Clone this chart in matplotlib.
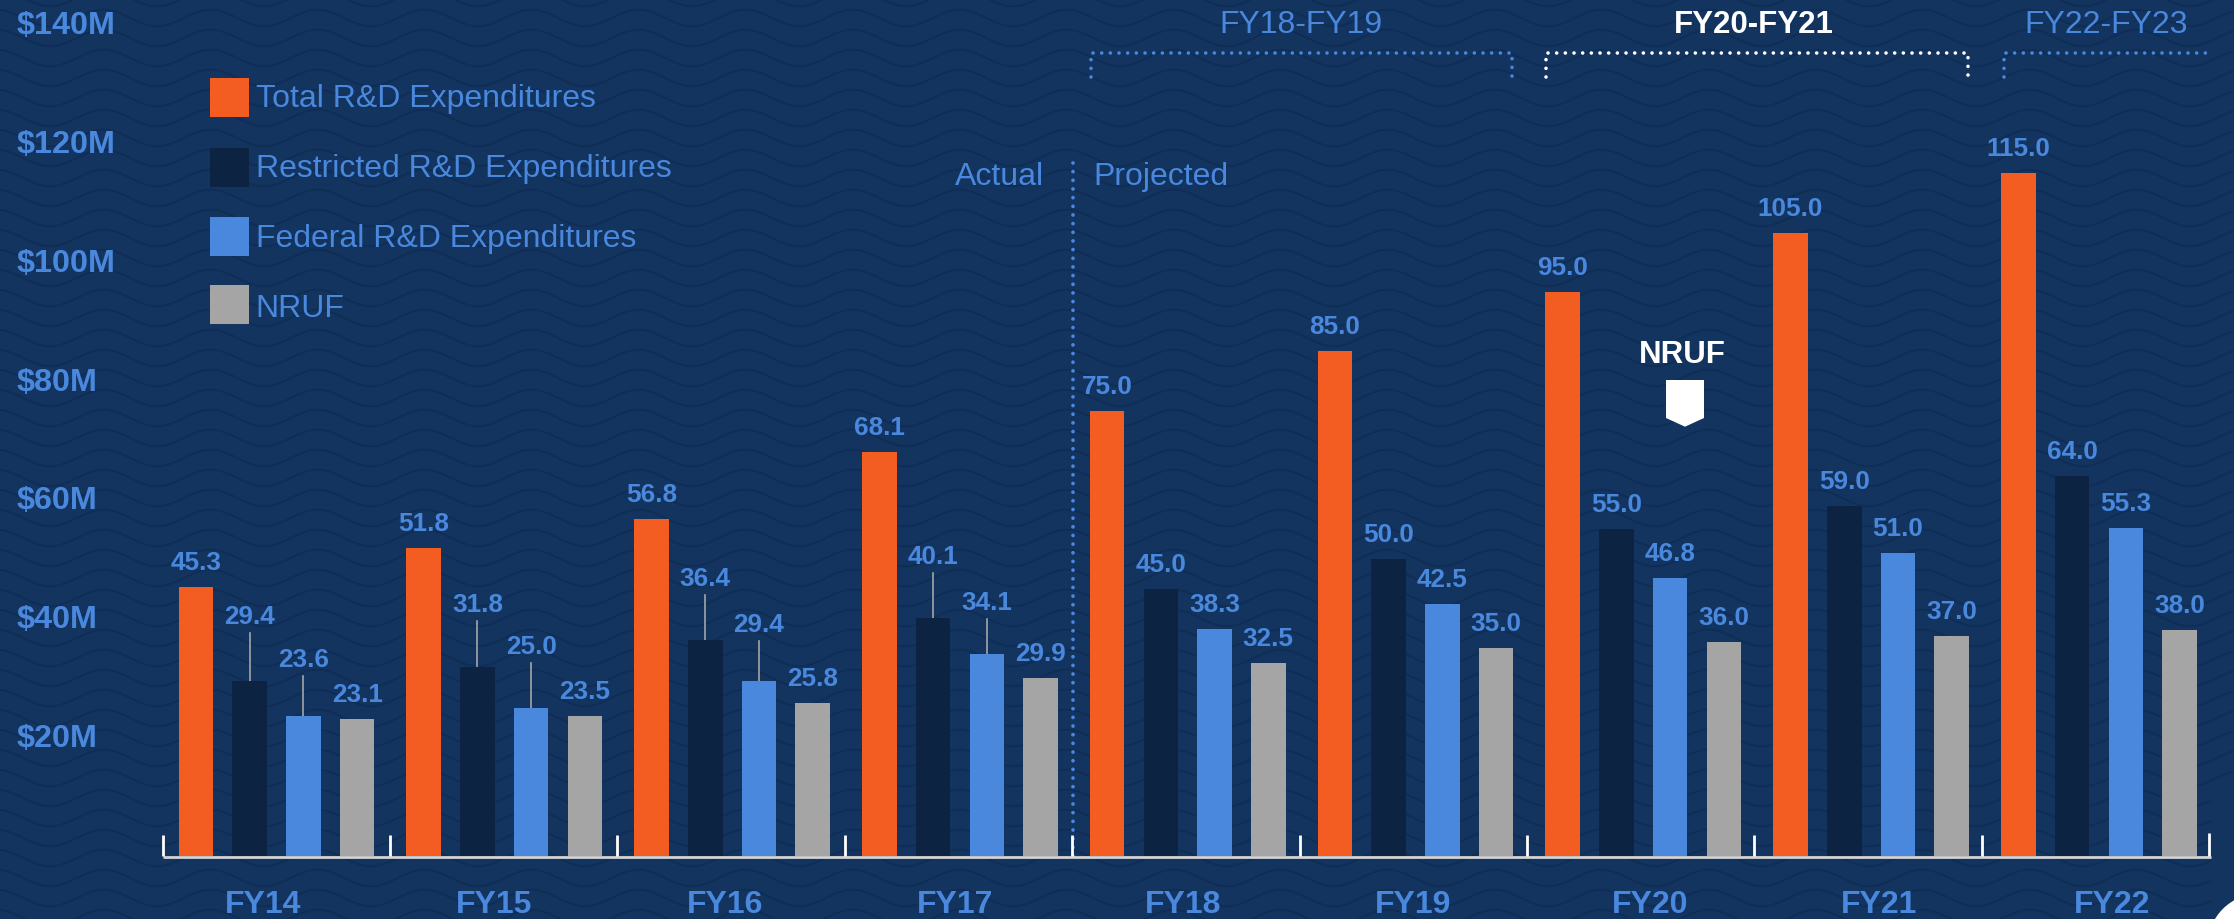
import numpy as np
import matplotlib
matplotlib.use("Agg")
import matplotlib.pyplot as plt
from matplotlib.patches import Polygon, Circle, Rectangle
from matplotlib.transforms import IdentityTransform

W, H = 2234, 919
BG = "#12345F"
WAVE = "#0F2D55"
ORANGE = "#F45D22"
NAVY = "#0C2341"
BLUE = "#4A88DE"
GREY = "#A5A5A5"
TXT = "#4A88DE"

years = ["FY14", "FY15", "FY16", "FY17", "FY18", "FY19", "FY20", "FY21", "FY22"]
total = [45.3, 51.8, 56.8, 68.1, 75.0, 85.0, 95.0, 105.0, 115.0]
restricted = [29.4, 31.8, 36.4, 40.1, 45.0, 50.0, 55.0, 59.0, 64.0]
federal = [23.6, 25.0, 29.4, 34.1, 38.3, 42.5, 46.8, 51.0, 55.3]
nruf = [23.1, 23.5, 25.8, 29.9, 32.5, 35.0, 36.0, 37.0, 38.0]
series_names = ["Total R&D Expenditures", "Restricted R&D Expenditures",
                "Federal R&D Expenditures", "NRUF"]
yticks = [20, 40, 60, 80, 100, 120, 140]

X0, XS = 159.0, 227.8
Y0, YS = 856.0, 5.937

def ux(px):
    return (np.asarray(px, dtype=float) - X0) / XS

def uy(py):
    return (Y0 - np.asarray(py, dtype=float)) / YS

plt.rcParams["font.family"] = ["Liberation Sans", "DejaVu Sans"]
fig = plt.figure(figsize=(W / 100, H / 100), dpi=100, facecolor=BG)
ax = fig.add_axes([0, 0, 1, 1])
ax.set_xlim(ux(0), ux(W))
ax.set_ylim(uy(H), uy(0))
ax.axis("off")

# wave texture
px = np.linspace(0, W, 1500)
for row in np.arange(-22, H + 40, 20.0):
    ax.plot(ux(px), uy(row + 8.3 * np.cos(2 * np.pi * (px - 50) / 107)), color=WAVE, lw=1.3, zorder=1)
# plain panel right of the patterned area, below the baseline
ax.add_patch(Rectangle((ux(2211), uy(H)), ux(W) - ux(2211), uy(790) - uy(H), color=BG, lw=0, zorder=1.5))
# white corner shape
ax.add_patch(Circle((2260, H - 946), 52.5, transform=IdentityTransform(), color="white", lw=0, zorder=2))

# bars
offsets = [36.9, 90.65, 144.4, 198.1]
bw = 34.5 / XS
colors = [ORANGE, NAVY, BLUE, GREY]
data = [total, restricted, federal, nruf]
for vals, off, c in zip(data, offsets, colors):
    xs = np.arange(len(years)) + off / XS
    ax.bar(xs, vals, width=bw, color=c, zorder=3)

# leader lengths (px) for restricted and federal labels, FY14-FY17
leaders = {1: [48, 46, 45, 45], 2: [40, 45, 40, 35]}

# value labels
for k, (vals, off) in enumerate(zip(data, offsets)):
    for i, v in enumerate(vals):
        x = i + off / XS
        gap = 17
        if k in leaders and i < len(leaders[k]):
            ln = leaders[k][i]
            ax.plot([x, x], [v, v + ln / YS], color=GREY, lw=1.2, zorder=2)
            gap = ln + 9
        ax.text(x, v + gap / YS, f"{v:.1f}", color=TXT, fontsize=18.8, fontweight="bold",
                ha="center", va="baseline", zorder=5)

# axis line and ticks
ax.plot(ux([162.5, 2211]), [-0.7 / YS, -0.7 / YS], color="#D4D4D4", lw=2, zorder=4, solid_capstyle="butt")
tick_px = [162.5 + 227.4 * i for i in range(len(years) + 1)]
for i, t in enumerate(tick_px):
    top = 23 if i == len(years) else 21
    ax.plot(ux([t, t]), [0, top / YS], color="white", lw=2, zorder=4, solid_capstyle="butt")

label_px = [263, 494, 725, 955, 1183, 1413, 1650, 1879, 2112]
for lp, y in zip(label_px, years):
    ax.text(ux(lp), uy(913), y, color=TXT, fontsize=23, fontweight="bold", ha="center", va="baseline")

for t in yticks:
    ax.text(ux(17), t - 9.5 / YS, f"${t}M", color=TXT, fontsize=23.3, fontweight="bold", ha="left", va="baseline")

# legend
for name, c, py, base in zip(series_names, colors, [97.3, 167.3, 236.5, 304.5], [106.7, 176.7, 246.7, 316.7]):
    ax.add_patch(Rectangle((ux(210), uy(py + 19.4)), ux(249) - ux(210), uy(py - 19.4) - uy(py + 19.4),
                           color=c, lw=0, zorder=3))
    ax.text(ux(255.5), uy(base), name, color=TXT, fontsize=23, ha="left", va="baseline", zorder=5)

# actual/projected
ax.plot(ux([1073.3, 1073.3]), [0, uy(159)], color=BLUE, lw=2.7, ls=(0, (0.01, 2.3)),
        dash_capstyle="round", zorder=2)
ax.text(ux(1044), uy(185), "Actual", color=TXT, fontsize=23, ha="right", va="baseline")
ax.text(ux(1093), uy(185), "Projected", color=TXT, fontsize=23, ha="left", va="baseline")

# brackets
bdot = (0, (0.01, 2.39))
for label, l, r, c, w, cx, closed in [("FY18-FY19", 1090.5, 1511.7, BLUE, "normal", 1300.7, True),
                                      ("FY20-FY21", 1545.5, 1967.6, "white", "bold", 1754, True),
                                      ("FY22-FY23", 2003.6, 2206, BLUE, "normal", 2106, False)]:
    xs = [l, l, r, r] if closed else [l, l, r]
    ys = [76.7, 53, 53, 76.7] if closed else [76.7, 53, 53]
    ax.plot(ux(xs), uy(ys), color=c, lw=2.6, ls=bdot, dash_capstyle="round", zorder=3)
    ax.text(ux(cx), uy(33), label, color="white" if w == "bold" else TXT,
            fontsize=22.5 if w == "bold" else 23, fontweight=w, ha="center", va="baseline")

# NRUF callout
ax.text(ux(1682.5), uy(363), "NRUF", color="white", fontsize=22.5, fontweight="bold",
        ha="center", va="baseline", zorder=5)
shield_x = ux([1666, 1704, 1704, 1685, 1666])
shield_y = uy([380, 380, 418, 426.7, 418])
ax.add_patch(Polygon(np.column_stack([shield_x, shield_y]), closed=True, color="white", lw=0, zorder=5))

fig.savefig("out.png", dpi=100, facecolor=BG)
